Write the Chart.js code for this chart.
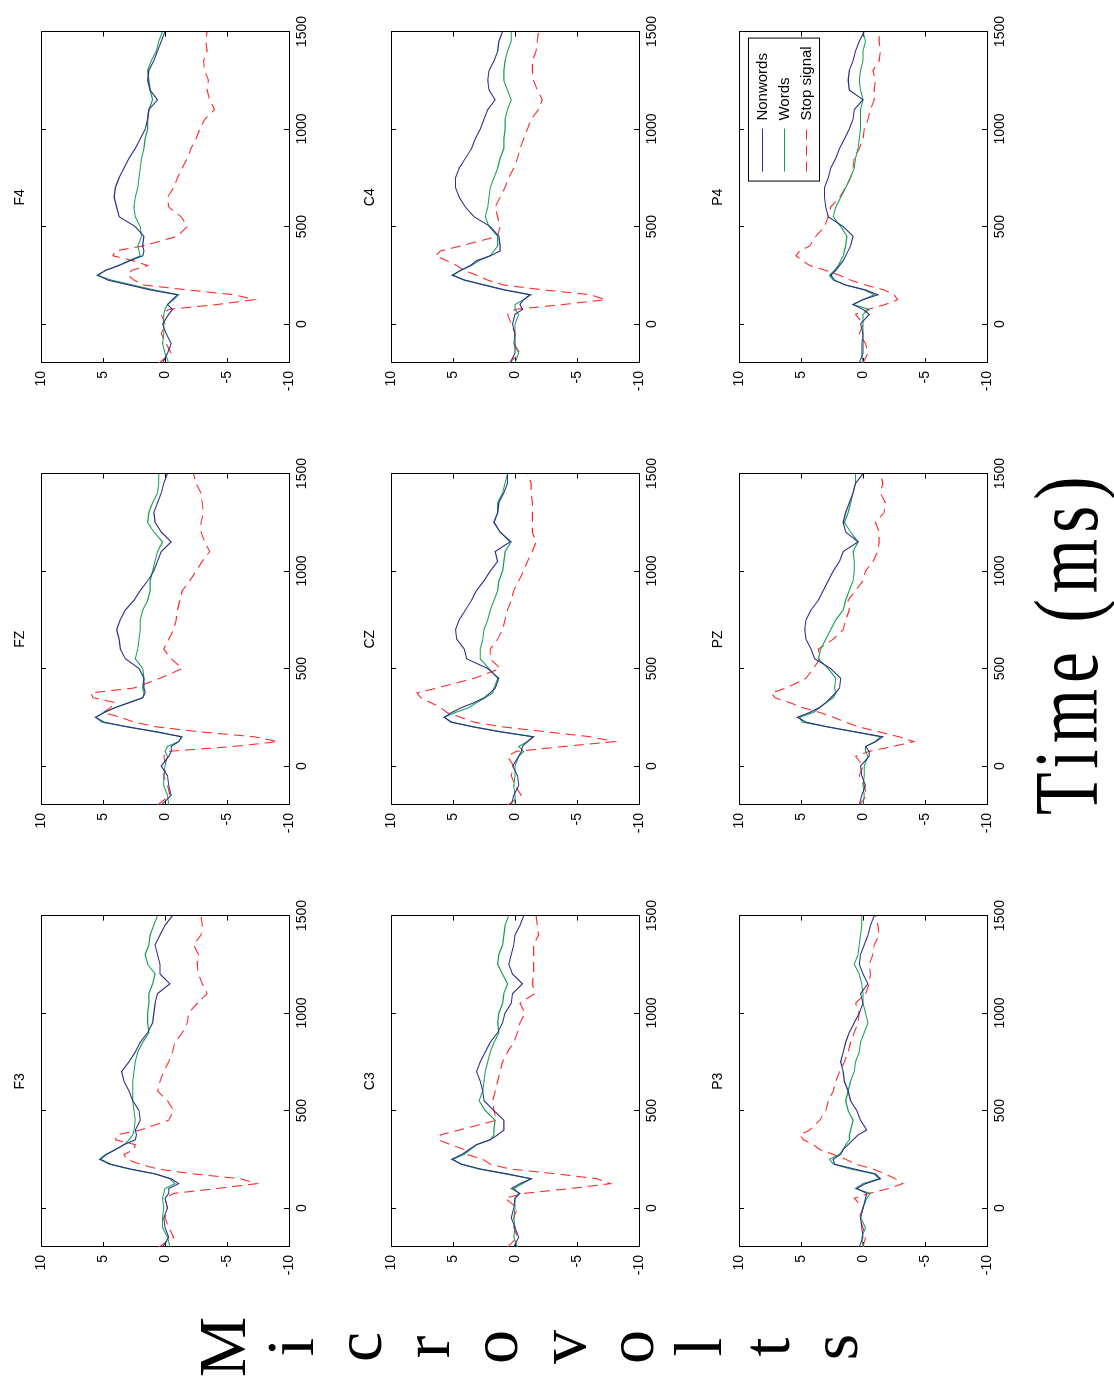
<!DOCTYPE html>
<html>
<head>
<meta charset="utf-8">
<title>ERP by electrode</title>
<script src="https://cdn.jsdelivr.net/npm/chart.js@4.4.0/dist/chart.umd.min.js"></script>
<style>
  html, body { margin: 0; padding: 0; background: #fff; overflow: hidden; }
  body { width: 1114px; height: 1380px; position: relative; }
  /* the figure is laid out upright, then turned a quarter to the left */
  #figure {
    position: absolute; left: 0; top: 0;
    width: 1380px; height: 1114px;
    transform-origin: 0 0;
    transform: translate(0, 1380px) rotate(-90deg);
    background: #fff;
  }
  .panel { position: absolute; }
  #ylabel {
    position: absolute; left: 1px; top: 188px; width: 64px;
    font-family: 'Liberation Serif', 'Times New Roman', serif;
    font-size: 68px; line-height: 68px; text-align: center; color: #000;
  }
  #xlabel {
    position: absolute; left: 565px; top: 1020px;
    font-family: 'Liberation Serif', 'Times New Roman', serif;
    font-size: 92px; line-height: 92px; letter-spacing: 8px; color: #000;
    white-space: nowrap; transform-origin: 0 0;
  }
</style>
</head>
<body>
<div id="figure">
  <div id="ylabel">M<br>i<br>c<br>r<br>o<br>v<br>o<br>l<br>t<br>s</div>
  <div id="xlabel">Time (ms)</div>
</div>
<script>
// time points (ms) shared by all series
const TIME = [-200, -150, -100, -50, 0, 50, 75, 100, 125, 150, 175, 200, 225, 250, 275, 300, 325, 350, 375, 400,
  450, 500, 550, 600, 650, 700, 750, 800, 850, 900, 950, 1000, 1050, 1100, 1150, 1200, 1250, 1300, 1350, 1400, 1450, 1500];

const TIME_TICKS = [0, 500, 1000, 1500];
const VOLT_TICKS = [-10, -5, 0, 5, 10];
const SERIES_LABELS = ['Nonwords', 'Words', 'Stop signal'];

// microvolts
const F3_NONWORDS = [0.2, -0.3, 0, 0.1, -0.2, 0, -0.3, -0.3, -1.1, -0.5, 0.8, 2.8, 4.4, 5.2, 4.7, 4.0, 3.3, 2.4, 2.3, 2.4,
  2.0, 2.1, 2.6, 2.9, 3.3, 3.5, 2.9, 2.4, 2.0, 1.4, 1.0, 0.9, 0.8, 0.6, -0.4, 0.4, 0.4, 0.6, 0.8, 0.4, 0, -0.6];
const F3_WORDS = [-0.4, -0.2, 0.2, 0.2, 0.1, 0.2, 0.1, 0, -0.8, -0.4, 0.8, 2.9, 4.5, 5.3, 4.8, 4.0, 3.3, 2.9, 2.6, 2.5,
  2.4, 2.5, 2.6, 2.6, 2.6, 2.5, 2.4, 2.2, 1.8, 1.3, 1.4, 1.4, 1.3, 1.3, 1.0, 0.8, 1.4, 1.6, 1.3, 1.2, 0.9, 0.6];
const F3_STOP = [0.5, -0.7, -0.3, 0, -0.2, 0, -0.7, -4.2, -7.4, -6.1, -2.3, 0.6, 2.0, 3.1, 3.3, 2.5, 2.4, 4.0, 3.9, 2.0,
  -0.3, -0.7, -0.2, 0.6, 0.4, 0.1, -0.3, -0.6, -0.8, -1.4, -1.8, -1.9, -2.6, -3.4, -3.0, -2.7, -2.6, -2.7, -2.3, -2.9, -3.0, -2.9];

const FZ_NONWORDS = [0.3, -0.5, -0.3, -0.2, 0.3, -0.3, -0.5, -0.5, -1.1, -1.3, 0.6, 3.0, 4.9, 5.6, 4.9, 4.0, 2.9, 1.8, 1.6, 1.7,
  1.7, 2.1, 3.2, 3.6, 3.7, 3.9, 3.6, 3.2, 2.5, 2.0, 1.4, 0.9, 0.6, 0.3, -0.5, 0.3, 0.8, 0.9, 0.6, 0.3, 0.1, -0.2];
const FZ_WORDS = [-0.3, -0.2, 0.1, 0.1, 0, -0.2, 0, -0.2, -1.1, -1.4, 0.8, 2.9, 5.1, 5.6, 4.9, 4.0, 2.9, 1.8, 1.7, 1.8,
  1.7, 1.8, 2.4, 2.2, 2.1, 2.0, 2.0, 1.8, 1.4, 1.2, 1.2, 1.0, 0.8, 0.6, 0.2, 0.9, 1.4, 1.3, 1.0, 0.6, 0.5, 0.5];
const FZ_STOP = [0.6, -0.4, -0.2, 0.1, -0.1, 0.1, -0.2, -5.5, -9.1, -7.2, -2.9, 0.6, 2.5, 3.6, 5.0, 4.4, 4.0, 5.8, 6.0, 2.5,
  0.4, -1.4, -0.5, 0.1, -0.3, -0.7, -0.9, -1.0, -1.2, -1.4, -2.0, -2.5, -3.0, -3.6, -3.2, -2.9, -2.9, -3.1, -3.0, -2.9, -2.5, -2.3];

const F4_NONWORDS = [0.2, -0.2, -0.5, -0.1, 0.2, -0.3, -0.6, -0.2, -0.6, -1.0, 1.2, 2.9, 4.6, 5.4, 4.8, 3.7, 2.8, 1.8, 1.7, 1.8,
  1.7, 2.4, 3.7, 3.9, 4.1, 4.0, 3.7, 3.3, 2.9, 2.4, 2.0, 1.6, 1.4, 1.3, 0.6, 1.2, 1.4, 1.3, 0.9, 0.6, 0.3, 0];
const F4_WORDS = [-0.3, 0, 0.2, 0.1, 0.1, 0.1, 0, -0.2, -0.7, -1.1, 0.9, 2.6, 4.3, 5.5, 4.8, 3.8, 2.9, 2.0, 2.1, 2.2,
  1.9, 2.0, 2.4, 2.5, 2.4, 2.2, 2.1, 2.0, 1.9, 1.7, 1.6, 1.4, 1.4, 1.3, 1.0, 1.2, 1.3, 1.4, 1.1, 0.7, 0.5, 0.2];
const F4_STOP = [0.5, -0.5, -0.1, 0.3, 0, 0.3, -0.3, -4.2, -7.2, -5.6, -1.8, 1.7, 2.5, 3.0, 2.7, 1.4, 2.6, 4.2, 4.0, 1.8,
  -1.0, -1.8, -1.3, -0.3, -0.2, -0.7, -1.0, -1.4, -1.8, -2.1, -2.5, -2.8, -3.2, -4.0, -3.6, -3.4, -3.5, -3.2, -3.1, -3.4, -3.3, -3.4];

const C3_NONWORDS = [0.1, -0.3, 0, 0.3, 0.1, 0, -0.4, 0.3, -0.4, -1.3, 0.6, 2.8, 4.3, 5.1, 4.3, 3.7, 3.1, 2.0, 1.4, 0.9,
  0.9, 1.7, 2.5, 2.6, 2.8, 3.1, 2.8, 2.4, 2.0, 1.4, 1.0, 0.8, 0.3, 0.2, -0.6, 0.2, 0.5, 0.3, 0.1, 0, -0.4, -0.7];
const C3_WORDS = [-0.2, 0.1, 0, 0.1, 0, 0, -0.3, 0.1, -0.6, -1.3, 0.8, 2.9, 4.4, 5.0, 4.1, 3.6, 3.1, 2.0, 1.7, 1.7,
  1.6, 2.4, 2.9, 2.6, 2.5, 2.4, 2.2, 2.0, 1.7, 1.3, 1.4, 1.3, 1.0, 0.9, 0.6, 1.0, 1.4, 1.3, 1.0, 0.9, 0.8, 0.5];
const C3_STOP = [0.6, -0.2, 0.1, 0.1, -0.2, 0.8, -0.7, -4.5, -7.7, -6.6, -3.4, 0.4, 2.0, 2.6, 3.9, 4.1, 5.2, 6.2, 6.0, 4.5,
  1.5, 1.7, 1.8, 1.6, 1.4, 1.2, 1.0, 0.6, 0.1, -0.2, -0.4, -0.8, -0.4, -1.6, -1.4, -1.5, -1.5, -1.5, -1.5, -1.9, -1.8, -1.7];

const CZ_NONWORDS = [0.3, 0.1, -0.3, -0.2, 0.2, -0.3, -0.5, -0.6, -1.0, -1.5, 1.2, 3.3, 5.1, 5.7, 5.1, 4.3, 3.3, 2.5, 2.0, 1.6,
  1.3, 2.2, 3.9, 4.1, 4.7, 4.8, 4.5, 4.0, 3.5, 3.1, 2.5, 2.0, 1.4, 1.6, 0.4, 1.2, 1.7, 1.4, 1.3, 0.9, 0.6, 0.6];
const CZ_WORDS = [0, 0, 0.1, 0, 0, -0.3, -0.7, -0.3, -1.0, -1.4, 1.0, 3.3, 5.2, 5.7, 4.8, 3.7, 3.1, 2.4, 1.8, 1.7,
  1.4, 2.1, 2.8, 2.8, 2.6, 2.5, 2.2, 2.0, 1.7, 1.4, 1.3, 1.0, 0.9, 0.8, 0.3, 1.2, 1.7, 1.4, 1.4, 1.0, 0.8, 0.6];
const CZ_STOP = [0.6, -0.5, 0, 0.3, 0.1, 0.6, -0.1, -3.9, -8.0, -6.1, -2.6, 0.9, 3.3, 4.4, 5.5, 6.0, 6.8, 7.6, 7.9, 6.3,
  3.3, 1.2, 2.0, 2.0, 1.4, 1.0, 0.8, 0.6, 0.3, 0.1, -0.3, -0.7, -1.0, -1.4, -1.7, -1.4, -1.4, -1.4, -1.4, -1.3, -1.3, -1.0];

const C4_NONWORDS = [0.4, 0, 0, 0, 0.2, 0, -0.6, -0.4, -0.7, -1.2, 0.9, 2.5, 4.1, 5.0, 4.4, 3.6, 3.1, 2.0, 1.2, 1.2,
  1.3, 2.0, 3.3, 4.0, 4.5, 4.8, 4.8, 4.5, 4.0, 3.5, 3.2, 2.8, 2.5, 2.2, 1.6, 2.1, 2.2, 2.1, 1.7, 1.4, 1.3, 1.0];
const C4_WORDS = [0, -0.3, 0.1, 0, 0, -0.3, 0, 0, -0.7, -1.3, 0.8, 2.4, 4.0, 5.1, 4.4, 3.5, 2.9, 2.0, 1.7, 1.4,
  1.4, 2.1, 2.4, 2.2, 2.1, 2.0, 1.7, 1.4, 1.2, 0.9, 0.9, 0.8, 0.8, 0.6, 0.3, 0.6, 0.9, 0.9, 0.8, 0.6, 0.3, 0.3];
const C4_STOP = [0.5, -0.4, 0.1, 0, 0.3, 0.6, 0, -3.9, -7.3, -6.1, -2.3, 0.9, 2.2, 3.1, 4.1, 4.7, 5.5, 6.4, 6.0, 4.4,
  1.4, 1.2, 1.4, 1.6, 1.2, 0.8, 0.5, 0.1, -0.2, -0.4, -0.7, -1.0, -1.3, -1.9, -2.2, -1.8, -1.5, -1.4, -1.4, -1.7, -1.8, -1.9];

const P3_NONWORDS = [0.3, 0, 0.1, 0.2, 0, -0.2, -0.3, 0.5, -0.2, -1.4, -1.0, 0.7, 2.3, 2.4, 1.8, 1.6, 1.2, 0.8, 0.4, -0.3,
  0.2, 0.5, 1.0, 1.2, 1.5, 1.6, 1.8, 1.6, 1.4, 1.1, 0.7, 0.3, 0, 0.2, -0.4, 0, 0.3, 0.2, -0.1, -0.4, -0.6, -0.9];
const P3_WORDS = [0, 0.1, -0.2, 0.2, 0, -0.3, -0.6, 0.6, 0, -1.3, -0.9, 1.0, 2.4, 2.7, 1.9, 1.6, 1.4, 1.1, 1.1, 1.0,
  0.8, 1.2, 1.4, 1.2, 1.0, 0.7, 0.6, 0.3, 0.2, -0.1, -0.4, -0.2, 0, 0, 0.1, 0.3, 0.7, 0.4, 0.3, 0.2, 0.1, 0.1];
const P3_STOP = [0, -0.2, 0, 0.3, 0, 0.7, -0.5, -2.1, -3.2, -2.6, -1.8, -0.8, 0.6, 1.4, 2.4, 3.5, 4.0, 4.8, 5.1, 4.3,
  3.5, 3.0, 2.8, 2.4, 2.2, 1.9, 1.5, 1.2, 1.0, 0.7, 0.4, 0.3, 0.6, -0.2, -0.5, -0.6, -0.5, -0.8, -0.9, -1.3, -1.2, -1.0];

const PZ_NONWORDS = [0.3, 0.1, -0.2, 0.1, 0.2, -0.5, -0.5, -0.2, -1.0, -1.6, 0.6, 2.8, 4.6, 5.3, 4.3, 3.5, 3.0, 2.6, 2.2, 1.9,
  1.8, 2.6, 3.9, 4.2, 4.6, 4.7, 4.6, 4.2, 3.6, 3.2, 2.8, 2.4, 1.9, 1.6, 0.4, 1.4, 1.6, 1.4, 1.1, 0.8, 0.6, 0];
const PZ_WORDS = [0, -0.1, 0, -0.1, -0.1, -0.4, -0.2, -0.2, -1.0, -1.4, 0.7, 2.8, 4.9, 5.1, 4.0, 3.5, 3.0, 2.4, 2.2, 2.3,
  2.2, 2.8, 3.6, 3.4, 3.0, 2.6, 2.2, 1.6, 1.4, 1.1, 0.8, 0.7, 0.7, 0.8, 0.4, 1.0, 1.5, 1.2, 1.0, 0.8, 0.6, 0.6];
const PZ_STOP = [0.3, -0.3, -0.1, 0.3, 0, 0.6, -0.5, -2.4, -4.1, -2.9, -1.3, 0.3, 1.4, 2.4, 3.5, 4.9, 5.9, 7.1, 7.4, 6.2,
  4.6, 4.0, 3.5, 3.6, 2.4, 1.6, 1.4, 1.1, 1.2, 0.6, 0, -0.2, -0.8, -1.2, -1.3, -1.3, -1.0, -1.7, -1.8, -1.4, -1.6, -1.4];

const P4_NONWORDS = [0.3, 0, 0, 0, 0.2, -0.5, 0, 0.8, 0, -1.2, -0.2, 1.4, 2.3, 2.6, 2.2, 1.9, 1.6, 1.4, 1.2, 1.0,
  0.8, 1.6, 2.8, 3.0, 3.1, 3.1, 2.8, 2.6, 2.2, 1.9, 1.5, 1.1, 0.8, 0.7, 0, 1.1, 1.2, 1.1, 0.8, 0.6, 0.3, -0.1];
const P4_WORDS = [0, 0.1, 0.1, 0, 0, 0, -0.5, 0.8, 0, -0.9, -0.1, 1.4, 2.4, 2.7, 2.3, 2.0, 1.8, 1.6, 1.5, 1.4,
  1.3, 1.8, 2.4, 2.2, 1.8, 1.4, 1.0, 0.7, 0.6, 0.4, 0.3, 0.2, 0.2, 0.2, 0, 0.2, 0.3, 0.2, 0, 0, -0.2, 0];
const P4_STOP = [0, -0.4, -0.2, 0.3, 0, 0.6, -0.4, -1.8, -2.8, -2.5, -1.7, -0.2, 1.0, 1.9, 3.0, 4.3, 4.9, 5.4, 5.1, 4.3,
  3.8, 3.1, 2.8, 2.6, 1.9, 1.4, 1.0, 0.8, 0.7, 0.3, 0, -0.1, -0.4, -0.6, -0.9, -0.9, -1.0, -0.8, -1.3, -1.4, -1.3, -1.3];

const PANELS = [
  { title: 'F3', col: 0, row: 0, series: [F3_NONWORDS, F3_WORDS, F3_STOP] },
  { title: 'FZ', col: 1, row: 0, series: [FZ_NONWORDS, FZ_WORDS, FZ_STOP] },
  { title: 'F4', col: 2, row: 0, series: [F4_NONWORDS, F4_WORDS, F4_STOP] },
  { title: 'C3', col: 0, row: 1, series: [C3_NONWORDS, C3_WORDS, C3_STOP] },
  { title: 'CZ', col: 1, row: 1, series: [CZ_NONWORDS, CZ_WORDS, CZ_STOP] },
  { title: 'C4', col: 2, row: 1, series: [C4_NONWORDS, C4_WORDS, C4_STOP] },
  { title: 'P3', col: 0, row: 2, series: [P3_NONWORDS, P3_WORDS, P3_STOP] },
  { title: 'PZ', col: 1, row: 2, series: [PZ_NONWORDS, PZ_WORDS, PZ_STOP] },
  { title: 'P4', col: 2, row: 2, series: [P4_NONWORDS, P4_WORDS, P4_STOP], legend: true }
];

// layout of the upright figure
const COL_X = [133, 575, 1017];
const ROW_Y = [41, 391, 739];
const PLOT_W = 335, PLOT_H = 248;
const PAD_LEFT = 50, PAD_RIGHT = 22, PAD_TOP = 30, PAD_BOTTOM = 30;

const LINE_STYLES = [
  { color: '#2f2f8e', dash: [] },
  { color: '#17a055', dash: [] },
  { color: '#ff2b2b', dash: [10, 6] }
];
const FONT = "'Liberation Sans', Arial, sans-serif";

// legend box drawn inside the top right corner of the plot
const insideLegend = {
  id: 'insideLegend',
  afterDraw(chart) {
    if (!chart.options.plugins.insideLegend.show) return;
    const { ctx, chartArea } = chart;
    const w = 143, h = 71;
    const x = chartArea.right - w - 7;
    const y = chartArea.top + 9;
    ctx.save();
    ctx.fillStyle = '#fff';
    ctx.fillRect(x, y, w, h);
    ctx.strokeStyle = '#000';
    ctx.lineWidth = 1;
    ctx.strokeRect(x + 0.5, y + 0.5, w, h);
    ctx.font = '15px ' + FONT;
    ctx.textBaseline = 'middle';
    chart.data.datasets.forEach((ds, i) => {
      const ly = Math.round(y + 14 + i * 22) + 0.5;
      ctx.strokeStyle = ds.borderColor;
      ctx.setLineDash(ds.borderDash || []);
      ctx.beginPath();
      ctx.moveTo(x + 10, ly);
      ctx.lineTo(x + 53, ly);
      ctx.stroke();
      ctx.setLineDash([]);
      ctx.fillStyle = '#000';
      ctx.fillText(ds.label, x + 61, ly);
    });
    ctx.restore();
  }
};

function setTicks(values) {
  return function (scale) {
    scale.ticks = values.map(v => ({ value: v }));
  };
}

function axis(position, min, max, tickValues, showLabels) {
  const horizontal = position === 'bottom' || position === 'top';
  return {
    type: 'linear',
    position: position,
    min: min,
    max: max,
    afterBuildTicks: setTicks(tickValues),
    afterFit: function (scale) {
      if (horizontal) scale.height = showLabels ? PAD_BOTTOM : 0;
      else scale.width = showLabels ? PAD_LEFT : 0;
    },
    grid: { drawOnChartArea: false, tickLength: -5, color: '#000', lineWidth: 1 },
    border: { display: true, color: '#000', width: 1 },
    ticks: {
      display: showLabels,
      color: '#000',
      font: { family: FONT, size: 14 },
      padding: horizontal ? 10 : 13,
      maxRotation: 0,
      minRotation: 0,
      callback: v => String(v)
    }
  };
}

function makePanel(p, fig) {
  const wrap = document.createElement('div');
  wrap.className = 'panel';
  wrap.style.left = (COL_X[p.col] - PAD_LEFT) + 'px';
  wrap.style.top = (ROW_Y[p.row] - PAD_TOP) + 'px';
  const canvas = document.createElement('canvas');
  canvas.width = PAD_LEFT + PLOT_W + PAD_RIGHT;
  canvas.height = PAD_TOP + PLOT_H + PAD_BOTTOM;
  wrap.appendChild(canvas);
  fig.appendChild(wrap);

  const datasets = p.series.map((vals, i) => ({
    label: SERIES_LABELS[i],
    data: TIME.map((t, k) => ({ x: t, y: vals[k] })),
    borderColor: LINE_STYLES[i].color,
    borderDash: LINE_STYLES[i].dash,
    borderWidth: 1.1,
    pointRadius: 0,
    tension: 0,
    fill: false
  }));

  new Chart(canvas, {
    type: 'line',
    data: { datasets: datasets },
    options: {
      responsive: false,
      animation: false,
      layout: { padding: 0 },
      scales: {
        x: axis('bottom', -200, 1500, TIME_TICKS, true),
        y: axis('left', -10, 10, VOLT_TICKS, true),
        x2: axis('top', -200, 1500, TIME_TICKS, false),
        y2: axis('right', -10, 10, VOLT_TICKS, false)
      },
      plugins: {
        legend: { display: false },
        tooltip: { enabled: false },
        title: {
          display: true,
          text: p.title,
          fullSize: false,
          color: '#000',
          font: { family: FONT, size: 14, weight: 'normal', lineHeight: 1.2 },
          padding: { top: 1, bottom: PAD_TOP - 1 - 14 * 1.2 }
        },
        insideLegend: { show: !!p.legend }
      }
    },
    plugins: [insideLegend]
  });
}

document.addEventListener('DOMContentLoaded', function () {
  const fig = document.getElementById('figure');
  PANELS.forEach(p => makePanel(p, fig));

  // squeeze the axis caption to the width it has in the original
  const xlabel = document.getElementById('xlabel');
  const natural = xlabel.offsetWidth;
  xlabel.style.transform = 'scaleX(' + (345 / natural) + ')';
});
</script>
</body>
</html>
